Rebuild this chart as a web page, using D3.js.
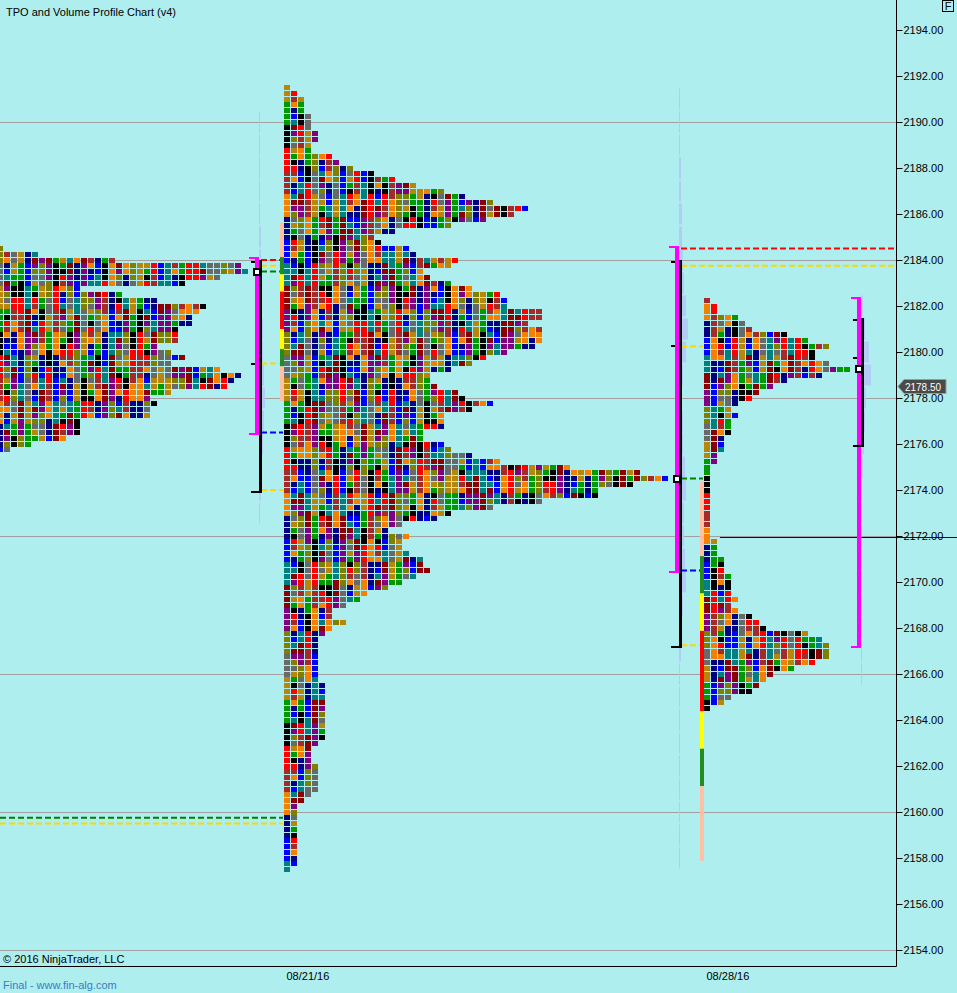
<!DOCTYPE html>
<html>
<head>
<meta charset="utf-8">
<script src="https://cdn.jsdelivr.net/npm/d3@7"></script>
<style>
  html, body { margin: 0; padding: 0; background: #afeeee; }
  svg { display: block; }
  text { font-family: "Liberation Sans", Arial, sans-serif; font-size: 11px; }
</style>
</head>
<body>
<svg id="chart"></svg>
<script>
const W = 957, H = 993;

// ---- data --------------------------------------------------------------
const TICK = 0.25;
const axisPrices = d3.range(2154, 2195, 2);
const gridPrices = [2154, 2160, 2166, 2172, 2178, 2184, 2190];
const dateTicks = [new Date(2016, 7, 21), new Date(2016, 7, 28)];

// weekly sessions: previous (mostly off screen), 08/21, 08/28 (developing)
const sessionStart = [new Date(2016, 7, 14), new Date(2016, 7, 21), new Date(2016, 7, 28)];
const sessionEnd = [new Date(2016, 7, 20, 13, 12), new Date(2016, 7, 27, 13, 12), new Date(2016, 7, 30, 14, 0)];

// TPO count per price row, from the top row of each profile downwards
const profileHigh = [2184.5, 2191.5, 2182.25];
const prevCounts = [20,25,36,54,55,51,46,31,37,42,49,48,47,47,45,45,45,42,44,46,44,51,
                    54,53,52,44,41,42,41,41,31,31,31,29,24,21];
const midCounts = [1,2,3,3,3,4,4,4,5,5,4,
                   4,7,8,10,13,16,19,23,26,30,35,33,
                   29,24,16,13,14,18,19,25,24,20,21,24,
                   27,31,32,32,37,37,35,37,37,37,36,32,
                   29,27,24,21,21,22,25,26,30,27,23,23,
                   23,20,20,23,24,27,31,41,51,55,50,45,
                   45,37,30,24,22,17,15,18,17,17,18,20,
                   20,21,19,17,15,12,11,9,7,7,9,7,
                   6,5,5,5,5,5,5,5,5,6,6,6,
                   6,6,6,6,6,6,6,5,4,4,4,5,
                   5,5,5,5,4,3,2,2,2,2,2,2,
                   2,2,2,2,2,1];
const curCounts = [1,2,2,5,6,7,12,15,18,16,16,18,
                   21,17,12,10,8,7,5,4,5,4,4,4,
                   3,3,3,2,2,1,1,1,1,1,1,1,
                   1,1,1,1,1,1,2,2,2,3,3,3,
                   4,4,4,4,5,4,5,7,8,9,15,17,
                   18,18,18,16,13,10,9,8,7,4,3,1];
const tpoCounts = [prevCounts, midCounts, curCounts];

// value area, range and point of control per session
const vaHigh = [2184.0, 2184.5, 2182.25];
const vaLow = [2176.5, 2170.5, 2167.25];
const pocPrice = [2183.5, 2174.5, 2179.25];
const rangeHigh = [2184.0, 2184.0, 2181.5];
const rangeLow = [2174.0, 2167.25, 2176.0];
const midMark = [2179.5, 2180.25, 2179.75];

// volume profile per 1-point bucket, from the top bucket downwards
const volTop = [2190, 2191, 2182];
const volPrev = [1,1,1,1,1,2,2,3,3,4,4,5,6,5,4,3,2,1];
const volMid = [1,1,1,2,2,3,3,4,5,7,9,7,4,3,4,4,6,7,5,5,6,7,4,3,2,1,1,1,1,1,1,1,1,1];
const volCur = [2,4,8,10,5,4,3,2,1,1,1,1,1,1,1,1,1];
const volumes = [volPrev, volMid, volCur];

// deviation band strip beside the 08/21 and 08/28 profiles
const bandKeys = ["pink", "green", "yellow", "red", "yellow", "green", "pink"];
const midBandEdges = [2185.625, 2184.125, 2183.375, 2182.625, 2181.0, 2180.125, 2179.375, 2177.875];
const curBandEdges = [2174.375, 2171.125, 2169.5, 2167.875, 2164.375, 2162.75, 2161.125, 2157.875];

// level lines
const prevLevels = [2184.0, 2183.75, 2183.5, 2179.5, 2176.5, 2174.0];
const prevLevelKeys = ["red", "gold", "green", "gold", "blue", "gold"];
const midLevels = [2180.25, 2174.5, 2170.5, 2167.25];
const midLevelKeys = ["gold", "green", "blue", "gold"];
const midOpenLevels = [2184.5, 2183.75];
const midOpenKeys = ["red", "gold"];
const nakedLevels = [2159.75, 2159.5];
const nakedKeys = ["green", "gold"];
const refLevel = 2172.0;
const refLevelStart = new Date(2016, 7, 28, 6, 24);
const lastPrice = 2178.5;

// ---- styles ------------------------------------------------------------
const palette = ["#8b0000", "#a52a2a", "#696969", "#0000ff", "#000000", "#800080", "#f58000",
                 "#b8860b", "#008080", "#ff0000", "#808000", "#000080", "#009900"];
const bandColor = {pink: "#ffc0a4", green: "#228b22", yellow: "#ffff00", red: "#ff0000"};
const lineColor = {red: "#ff0000", gold: "#ffd700", green: "#008000", blue: "#0000ff"};

// ---- scales ------------------------------------------------------------
const y = d3.scaleLinear().domain([2154, 2194]).range([950, 30]);
const x = d3.scaleTime().domain(dateTicks).range([284, 704]);
const col = d3.scaleLinear().domain([0, 1]).range([0, 7]);
const vol = d3.scaleLinear().domain([0, 10]).range([0, 10]);
const AXIS_X = 896, AXIS_Y = 966;
const halfTick = y(0) - y(TICK / 2);

const svg = d3.select("#chart")
    .attr("width", W)
    .attr("height", H)
    .attr("viewBox", [0, 0, W, H]);

svg.append("rect").attr("width", W).attr("height", H).attr("fill", "#afeeee");

// grid
svg.append("g")
    .selectAll("line")
    .data(gridPrices)
    .join("line")
    .attr("x1", 0).attr("x2", AXIS_X)
    .attr("y1", d => Math.round(y(d)) + 0.5).attr("y2", d => Math.round(y(d)) + 0.5)
    .attr("stroke", "#a0a0a0");

// volume profiles (faint)
const volBars = [];
volumes.forEach((v, s) => v.forEach((val, i) => volBars.push({s, price: volTop[s] - i, val})));
svg.append("g")
    .selectAll("rect")
    .data(volBars)
    .join("rect")
    .attr("x", d => x(sessionEnd[d.s]) + 2)
    .attr("y", d => y(d.price + 0.5) + 1)
    .attr("width", d => vol(d.val))
    .attr("height", d => y(d.price - 0.5) - y(d.price + 0.5) - 2)
    .attr("fill", "#b4c6f6")
    .attr("opacity", 0.85);

// dashed levels
function dashed(g, prices, keys, x1, x2) {
    g.append("g")
        .selectAll("line")
        .data(prices)
        .join("line")
        .attr("x1", x1).attr("x2", x2)
        .attr("y1", d => y(d)).attr("y2", d => y(d))
        .attr("stroke", (d, i) => lineColor[keys[i]])
        .attr("stroke-width", 2)
        .attr("stroke-dasharray", "6,3");
}
dashed(svg, nakedLevels, nakedKeys, 0, x(sessionStart[1]) - 1);
dashed(svg, prevLevels, prevLevelKeys, x(sessionEnd[0]) + 4, x(sessionStart[1]) - 1);
dashed(svg, midLevels, midLevelKeys, x(sessionEnd[1]) + 4, x(sessionStart[2]) - 1);
dashed(svg, midOpenLevels, midOpenKeys, x(sessionEnd[1]) + 4, AXIS_X - 1);

// deviation strips
function strip(edges, s) {
    svg.append("g")
        .selectAll("rect")
        .data(bandKeys)
        .join("rect")
        .attr("x", x(sessionStart[s]) - 4)
        .attr("width", 4)
        .attr("y", (d, i) => y(edges[i]))
        .attr("height", (d, i) => y(edges[i + 1]) - y(edges[i]))
        .attr("fill", d => bandColor[d]);
}
strip(midBandEdges, 1);
strip(curBandEdges, 2);

// TPO cells
function cellColor(s, i, k) {
    const run = 1 + ((k * 5 + s * 3) % 4);
    const block = Math.floor((i + k * 3 + s) / run);
    return palette[(block * 5 + k * 3 + s * 7) % palette.length];
}
const cells = [];
tpoCounts.forEach((counts, s) => counts.forEach((c, i) => {
    for (let k = 0; k < c; k++) cells.push({s, i, k, price: profileHigh[s] - i * TICK});
}));
svg.append("g")
    .attr("shape-rendering", "crispEdges")
    .selectAll("rect")
    .data(cells)
    .join("rect")
    .attr("x", d => x(sessionStart[d.s]) + col(d.k))
    .attr("y", d => y(d.price) - 2.5)
    .attr("width", 6)
    .attr("height", 5)
    .attr("fill", d => cellColor(d.s, d.i, d.k));

// reference line in developing session
svg.append("line")
    .attr("x1", x(refLevelStart)).attr("x2", W)
    .attr("y1", y(refLevel) + 1.5).attr("y2", y(refLevel) + 1.5)
    .attr("stroke", "#101030").attr("stroke-width", 1.2);

// value area brackets, ranges, POC markers
const br = svg.append("g").attr("shape-rendering", "crispEdges");
sessionEnd.forEach((d, s) => {
    const bx = x(d);
    const top = y(vaHigh[s]) - halfTick, bot = y(vaLow[s]) + halfTick;
    br.append("rect").attr("x", bx - 2).attr("y", top).attr("width", 4).attr("height", bot - top).attr("fill", "#ff00ff");
    br.append("rect").attr("x", bx - 8).attr("y", top).attr("width", 10).attr("height", 2).attr("fill", "#ff00ff");
    br.append("rect").attr("x", bx - 8).attr("y", bot - 2).attr("width", 10).attr("height", 2).attr("fill", "#ff00ff");

    const rTop = y(rangeHigh[s]), rBot = y(rangeLow[s]) + halfTick;
    br.append("rect").attr("x", bx + 2).attr("y", rTop).attr("width", 2.5).attr("height", rBot - rTop).attr("fill", "#000");
    br.append("rect").attr("x", bx - 6).attr("y", rBot - 2).attr("width", 10.5).attr("height", 2).attr("fill", "#000");
    br.append("rect").attr("x", bx - 6).attr("y", rTop + 1).attr("width", 4).attr("height", 2).attr("fill", "#000");
    br.append("rect").attr("x", bx - 6).attr("y", y(midMark[s]) - 1).attr("width", 4).attr("height", 2).attr("fill", "#000");

    br.append("rect")
        .attr("x", bx - 3).attr("y", y(pocPrice[s]) - 3)
        .attr("width", 6).attr("height", 6)
        .attr("fill", "#fff").attr("stroke", "#000").attr("stroke-width", 2);
});

// price axis
const yAxis = d3.axisRight(y)
    .tickValues(axisPrices)
    .tickFormat(d3.format(".2f"))
    .tickSize(6)
    .tickPadding(1);
svg.append("g")
    .attr("transform", `translate(${AXIS_X + 0.5},0)`)
    .call(yAxis)
    .call(g => g.select(".domain").remove())
    .call(g => g.selectAll("text")
        .attr("font-family", "Liberation Sans, Arial, sans-serif")
        .attr("font-size", 11)
        .attr("fill", "#000"));

// date axis
const xAxis = d3.axisBottom(x)
    .tickValues(dateTicks)
    .tickFormat(d3.timeFormat("%m/%d/%y"))
    .tickSize(0)
    .tickPadding(6);
svg.append("g")
    .attr("transform", `translate(0,${AXIS_Y})`)
    .call(xAxis)
    .call(g => g.select(".domain").remove())
    .call(g => g.selectAll("text")
        .attr("text-anchor", "start")
        .attr("dx", 2)
        .attr("font-family", "Liberation Sans, Arial, sans-serif")
        .attr("font-size", 11)
        .attr("fill", "#000"));

// frame
svg.append("line")
    .attr("x1", AXIS_X + 0.5).attr("x2", AXIS_X + 0.5)
    .attr("y1", 0).attr("y2", AXIS_Y + 0.5)
    .attr("stroke", "#000");
svg.append("line")
    .attr("x1", 0).attr("x2", AXIS_X + 0.5)
    .attr("y1", AXIS_Y + 0.5).attr("y2", AXIS_Y + 0.5)
    .attr("stroke", "#000");

// last price tag
const ly = y(lastPrice);
svg.append("path")
    .attr("d", `M${AXIS_X + 2},${ly} L${AXIS_X + 8},${ly - 7} H946 V${ly + 7} H${AXIS_X + 8} Z`)
    .attr("fill", "#4a4a4a")
    .attr("stroke", "#9a9a9a");
svg.append("text")
    .attr("x", AXIS_X + 9).attr("y", ly + 4)
    .attr("fill", "#fff")
    .attr("font-size", 10.5)
    .attr("textLength", 36)
    .attr("lengthAdjust", "spacingAndGlyphs")
    .text(d3.format(".2f")(lastPrice));

// "F" box
svg.append("rect")
    .attr("x", 942.5).attr("y", 0.5).attr("width", 11).attr("height", 11)
    .attr("fill", "none").attr("stroke", "#000");
svg.append("text")
    .attr("x", 948).attr("y", 9.5)
    .attr("text-anchor", "middle")
    .attr("font-size", 9)
    .text("F");

// texts
svg.append("text").attr("x", 6).attr("y", 16).attr("fill", "#000")
    .text("TPO and Volume Profile Chart (v4)");
svg.append("text").attr("x", 3).attr("y", 963).attr("fill", "#000")
    .text("© 2016 NinjaTrader, LLC");
svg.append("text").attr("x", 3).attr("y", 989).attr("fill", "#3a7cc4")
    .text("Final - www.fin-alg.com");
</script>
</body>
</html>
